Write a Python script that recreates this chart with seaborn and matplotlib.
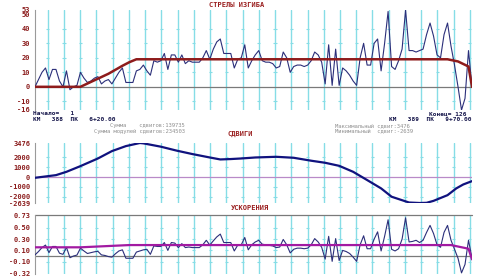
import numpy as np
import pandas as pd
import matplotlib
matplotlib.use("Agg")
import matplotlib.pyplot as plt
import seaborn as sns

# ---------------- data ----------------
idx = list(range(1, 127))
bend = [0, 5, 10, 13, 5, 12, 12, 4, 0, 11, -2, 0, 1, 10, 6, 3, 4, 6, 7, 2,
        4, 5, 2, 6, 10, 13, 3, 3, 3, 11, 12, 15, 11, 8, 18, 17, 18, 23, 12, 22,
        22, 17, 22, 16, 18, 17, 17, 17, 20, 25, 19, 26, 31, 33, 23, 23, 23, 13, 19, 20,
        29, 13, 18, 22, 25, 18, 17, 17, 16, 13, 14, 24, 20, 10, 14, 15, 15, 14, 15, 18,
        24, 22, 17, 2, 29, 1, 26, 1, 13, 11, 8, 4, 1, 20, 30, 15, 15, 30, 33, 11,
        30, 52, 14, 12, 18, 26, 53, 25, 25, 24, 25, 26, 36, 44, 35, 22, 20, 36, 44, 28,
        15, 0, -16, -8, 25, 0]
bend_smooth_x = [1, 14, 18, 22, 26, 28, 30, 119, 122, 125, 126]
bend_smooth_y = [0, 0, 4.5, 9, 14.5, 17, 19, 19, 17.5, 14, 0]

shift_x = [1, 7, 10, 14, 19, 23, 27, 31, 32, 37, 41.5, 46, 51, 54, 57, 60, 64, 70, 75,
           80, 84, 88, 92, 96, 100, 103, 108, 111, 113, 115, 119, 121.5, 123.5, 126]
shift_y = [-70, 200, 540, 1120, 1900, 2650, 3160, 3476, 3440, 3100, 2700, 2350, 2000,
           1800, 1840, 1900, 2000, 2070, 1970, 1670, 1460, 1150, 540, -300, -1150,
           -2000, -2590, -2639, -2620, -2420, -1840, -1150, -750, -410]

accel = [0.02, 0.08, 0.15, 0.195, 0.06, 0.17, 0.17, 0.05, 0.03, 0.155, -0.03, 0.0, 0.017,
         0.14, 0.09, 0.045, 0.06, 0.075, 0.083, 0.02, 0.01, -0.01, -0.02, 0.04, 0.09, 0.11,
         -0.04, -0.04, -0.04, 0.07, 0.09, 0.11, 0.12, 0.03, 0.18, 0.17, 0.17, 0.24, 0.1, 0.24,
         0.23, 0.15, 0.22, 0.15, 0.16, 0.15, 0.15, 0.15, 0.2, 0.28, 0.195, 0.27, 0.34, 0.39,
         0.24, 0.24, 0.24, 0.09, 0.195, 0.2, 0.33, 0.11, 0.2, 0.25, 0.28, 0.21, 0.2, 0.19,
         0.18, 0.15, 0.16, 0.295, 0.2, 0.055, 0.12, 0.14, 0.14, 0.13, 0.14, 0.2, 0.31, 0.25,
         0.155, -0.055, 0.35, -0.095, 0.31, -0.08, 0.1, 0.08, 0.045, -0.02, -0.095, 0.2, 0.36,
         0.13, 0.13, 0.3, 0.43, 0.09, 0.35, 0.645, 0.12, 0.09, 0.13, 0.3, 0.68, 0.25, 0.26,
         0.28, 0.24, 0.28, 0.42, 0.545, 0.4, 0.2, 0.155, 0.42, 0.545, 0.28, 0.12, -0.04,
         -0.3, -0.15, 0.28, -0.04]
accel_smooth_x = [1, 14, 28, 120, 125, 126]
accel_smooth_y = [0.155, 0.155, 0.195, 0.195, 0.13, -0.06]

bend_ticks = [53, 50, 40, 30, 20, 10, 0, -10, -16]
shift_ticks = [3476, 2000, 1000, 0, -1000, -2000, -2639]
accel_ticks = [0.73, 0.50, 0.30, 0.10, -0.10, -0.32]
accel_tick_labels = ["0.73", "0.50", "0.30", "0.10", "-0.10", "-0.32"]

# ---------------- style ----------------
sns.set_style("white")
plt.rcParams['font.family'] = ['DejaVu Sans Mono', 'DejaVu Sans']

W, H = 481, 278
fig = plt.figure(figsize=(W / 100, H / 100), dpi=100)
fig.patch.set_facecolor("white")

GRID = "#86dde6"
TICKC = "#8b1c1c"
grid_pos = np.array([4.63 + 4.645 * k for k in range(27)])


def make_ax(top_px, bot_px):
    ax = fig.add_axes([35 / W, 1 - bot_px / H, 437 / W, (bot_px - top_px) / H])
    ax.set_facecolor("white")
    ax.set_xlim(1, 126)
    ax.set_xticks(grid_pos)
    ax.set_xticklabels([])
    ax.grid(axis="x", color=GRID, lw=1.0)
    ax.grid(axis="y", visible=False)
    for s in ["top", "right", "bottom"]:
        ax.spines[s].set_visible(False)
    ax.spines["left"].set_color("#9a9a9a")
    ax.spines["left"].set_linewidth(0.8)
    ax.tick_params(axis="x", length=0)
    ax.tick_params(axis="y", length=2, width=0.8, color="#9a9a9a", pad=1.5,
                   labelsize=5.0, labelcolor=TICKC)
    return ax


def crosses(ax, ticks):
    # small horizontal marks where tick levels cross the vertical grid lines
    for t in ticks:
        ax.hlines([t] * len(grid_pos), grid_pos - 0.45, grid_pos + 0.45,
                  colors=GRID, lw=0.8, zorder=1)


def style_labels(ax):
    for t in ax.get_yticklabels():
        t.set_fontweight("bold")


# Panel 1: bend arrows
ax1 = make_ax(10, 110)
ax1.set_ylim(-16, 53)
ax1.set_yticks(bend_ticks)
ax1.set_yticklabels([str(v) for v in bend_ticks])
crosses(ax1, [40, 30, 20, 10, -10])
ax1.axhline(0, color="#7a7a7a", lw=0.9, zorder=1)
df1 = pd.DataFrame({"x": idx, "y": bend})
sns.lineplot(data=df1, x="x", y="y", ax=ax1, color="#2b2f7a", lw=0.8,
             estimator=None, sort=False, zorder=3)
df1s = pd.DataFrame({"x": bend_smooth_x, "y": bend_smooth_y})
sns.lineplot(data=df1s, x="x", y="y", ax=ax1, color="#8e1b1b", lw=1.8,
             estimator=None, sort=False, zorder=4)
style_labels(ax1)

# Panel 2: shifts
ax2 = make_ax(143, 203)
ax2.set_ylim(-2639, 3476)
ax2.set_yticks(shift_ticks)
ax2.set_yticklabels([str(v) for v in shift_ticks])
crosses(ax2, [2000, 1000, -1000, -2000])
ax2.axhline(0, color="#b98ac8", lw=0.9, zorder=1)
df2 = pd.DataFrame({"x": shift_x, "y": shift_y})
sns.lineplot(data=df2, x="x", y="y", ax=ax2, color="#10127e", lw=1.6,
             estimator=None, sort=False, zorder=3)
style_labels(ax2)

# Panel 3: accelerations
ax3 = make_ax(215, 274)
ax3.set_ylim(-0.32, 0.73)
ax3.set_yticks(accel_ticks)
ax3.set_yticklabels(accel_tick_labels)
crosses(ax3, [0.50, 0.30, 0.10, -0.10])
ax3.axhline(0, color="#7a7a7a", lw=0.9, zorder=1)
ax3.axhline(0.73, color="#7a7a7a", lw=0.9, zorder=1, clip_on=False)
df3 = pd.DataFrame({"x": idx, "y": accel})
sns.lineplot(data=df3, x="x", y="y", ax=ax3, color="#2b2f7a", lw=0.8,
             estimator=None, sort=False, zorder=3)
df3s = pd.DataFrame({"x": accel_smooth_x, "y": accel_smooth_y})
sns.lineplot(data=df3s, x="x", y="y", ax=ax3, color="#a21aa2", lw=1.6,
             estimator=None, sort=False, zorder=4)
style_labels(ax3)

for ax in (ax1, ax2, ax3):
    ax.set_xlabel("")
    ax.set_ylabel("")


def ftext(x, y, s, **kw):
    fig.text(x / W, 1 - y / H, s, va="center", **kw)


TITLEC = "#9a1f1f"
ftext(237, 5, "СТРЕЛЫ ИЗГИБА", ha="center", fontsize=5.0, color=TITLEC, fontweight="bold")
ftext(240, 134, "СДВИГИ", ha="center", fontsize=5.0, color=TITLEC, fontweight="bold")
ftext(250, 208, "УСКОРЕНИЯ", ha="center", fontsize=5.0, color=TITLEC, fontweight="bold")

NAVY = "#15154a"
ftext(33, 113.3, "Начало=   1", ha="left", fontsize=4.4, color=NAVY, fontweight="bold")
ftext(33, 119.3, "КМ   388  ПК   6+20.00", ha="left", fontsize=4.4, color=NAVY, fontweight="bold")
ftext(467, 113.3, "Конец= 126", ha="right", fontsize=4.4, color=NAVY, fontweight="bold")
ftext(472, 119.3, "КМ   389  ПК   9+70.00", ha="right", fontsize=4.4, color=NAVY, fontweight="bold")

GRAY = "#8f8f8f"
ftext(185, 125.3, "Сумма    сдвигов:139735", ha="right", fontsize=4.0, color=GRAY)
ftext(185, 131.0, "Сумма модулей сдвигов:234503", ha="right", fontsize=4.0, color=GRAY)
ftext(335, 125.3, "Максимальный сдвиг:3476", ha="left", fontsize=4.0, color=GRAY)
ftext(335, 131.0, "Минимальный  сдвиг:-2639", ha="left", fontsize=4.0, color=GRAY)

fig.savefig("out.png", dpi=100)
